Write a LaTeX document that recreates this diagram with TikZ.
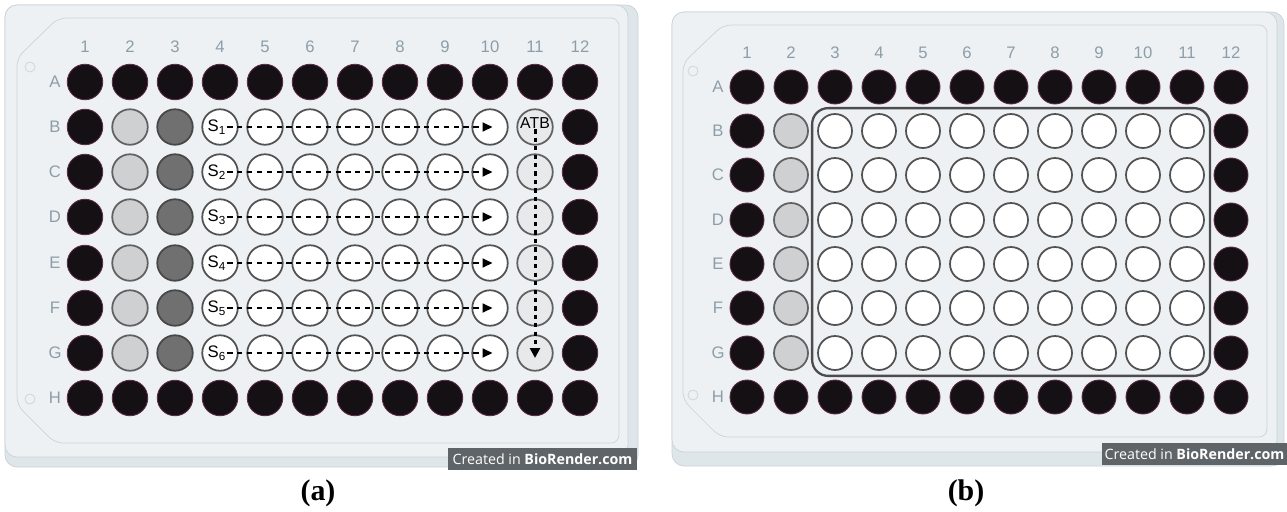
\documentclass[tikz,border=0pt]{standalone}
\usepackage{fontspec}
\setmainfont{Liberation Serif}
\setsansfont{Liberation Sans}
\newfontfamily\brfont{Open Sans}
\usetikzlibrary{positioning,arrows.meta,fit}

\definecolor{platebase}{HTML}{DFE6EA}
\definecolor{platetop}{HTML}{EDF1F4}
\definecolor{plateline}{HTML}{CAD3D9}
\definecolor{wellblack}{HTML}{151013}
\definecolor{wellrim}{HTML}{5C2B47}
\definecolor{lightwell}{HTML}{CFD0D2}
\definecolor{darkwell}{HTML}{707070}
\definecolor{atbgrey}{HTML}{E8E9EA}
\definecolor{labelgrey}{HTML}{8D9EA9}
\definecolor{markbox}{HTML}{5F6468}

\tikzset{
  well/.style={circle, minimum size=0.71cm, inner sep=0pt, line width=1pt},
  blackwell/.style={well, fill=wellblack, draw=wellrim, line width=0.5pt},
  greywell/.style={well, fill=lightwell, draw=black!62},
  darkgreywell/.style={well, fill=darkwell, draw=black!72},
  emptywell/.style={well, fill=white, draw=black!68},
  atbwell/.style={well, fill=atbgrey, draw=black!62},
  platelabel/.style={font=\fontsize{9.5}{10}\selectfont\sffamily, text=labelgrey, inner sep=0pt},
  sample/.style={font=\fontsize{9.5}{10}\selectfont\sffamily, inner sep=0.4pt},
  dilution/.style={-{Triangle[length=0.2cm,width=0.18cm]}, line width=1pt, dash pattern=on 3pt off 2.6pt},
  transfer/.style={-{Triangle[length=0.2cm,width=0.2cm]}, line width=1.7pt, dash pattern=on 2.4pt off 2.4pt},
  testbox/.style={draw=black!70, line width=1.3pt, rounded corners=0.32cm, inner sep=0.1cm},
  watermark/.style={fill=markbox, text=white, font=\brfont\fontsize{8.1}{9}\selectfont, minimum height=0.44cm, inner sep=0pt},
  caption/.style={font=\fontsize{17}{19}\selectfont\bfseries}
}

\begin{document}
\begin{tikzpicture}[x=0.02cm, y=-0.02cm]
\useasboundingbox (0,0) rectangle (1287,511);

% plate (a)
\draw[plateline, fill=platebase, rounded corners=0.24cm] (5,5) rectangle (638,467);
\draw[plateline, fill=platetop, rounded corners=0.24cm] (5,5) rectangle (628,457);
\draw[plateline, rounded corners=0.16cm] (58,18) -- (619,18) -- (619,443) -- (55,443) -- (17,405) -- (17,58) -- cycle;
\draw[plateline] (30,67) circle (0.1cm) (30,399) circle (0.1cm);
\foreach \c in {1,...,12} {
  \node[platelabel] (a-c\c) at ({85+45*(\c-1)},47) {\c};
  \node[blackwell] (a-A-\c) at ({85+45*(\c-1)},82) {};
  \node[blackwell] (a-H-\c) at ({85+45*(\c-1)},398) {};
}
\node[platelabel] (a-rA) at (55,82) {A};
\node[platelabel] (a-rH) at (55,398) {H};
\foreach \r/\y/\s in {B/127/1,C/172/2,D/217/3,E/263/4,F/308/5,G/353/6} {
  \node[platelabel] (a-r\r) at (55,\y) {\r};
  \node[blackwell] (a-\r-1) at (85,\y) {};
  \node[greywell] (a-\r-2) at (130,\y) {};
  \node[darkgreywell] (a-\r-3) at (175,\y) {};
  \foreach \c in {4,...,10}
    \node[emptywell] (a-\r-\c) at ({85+45*(\c-1)},\y) {};
  \node[atbwell] (a-\r-11) at (535,\y) {};
  \node[blackwell] (a-\r-12) at (580,\y) {};
  % serial dilution along the row
  \node[sample] (s\s) at ([xshift=-0.06cm]a-\r-4.center) {S\textsubscript{\s}};
  \draw[dilution] (s\s.east) -- ([xshift=0.05cm]a-\r-10.center);
}
\node[sample, font=\fontsize{9}{9}\selectfont\sffamily, inner sep=0pt] (atb) at ([yshift=0.07cm]a-B-11.center) {ATB};
\draw[transfer] (atb.south) -- ([yshift=-0.1cm]a-G-11.center);
\node[watermark, minimum width=3.78cm] (a-mark) at (542.5,459) {Created in \textbf{BioRender.com}};
\node[caption] (cap-a) at (318,493) {(a)};

% plate (b)
\draw[plateline, fill=platebase, rounded corners=0.24cm] (672,12) rectangle (1284,466);
\draw[plateline, fill=platetop, rounded corners=0.24cm] (672,12) rectangle (1277,452);
\draw[plateline, rounded corners=0.16cm] (723,25) -- (1267,25) -- (1267,437) -- (720,437) -- (683,400) -- (683,63) -- cycle;
\draw[plateline] (693,71) circle (0.1cm) (693,395) circle (0.1cm);
\begin{scope}[well/.append style={minimum size=0.68cm}]
\foreach \c in {1,...,12} {
  \node[platelabel] (b-c\c) at ({747+44*(\c-1)},53) {\c};
  \node[blackwell] (b-A-\c) at ({747+44*(\c-1)},87) {};
  \node[blackwell] (b-H-\c) at ({747+44*(\c-1)},397) {};
}
\node[platelabel] (b-rA) at (718,87) {A};
\node[platelabel] (b-rH) at (718,397) {H};
\foreach \r/\y in {B/131,C/175,D/220,E/264,F/308,G/353} {
  \node[platelabel] (b-r\r) at (718,\y) {\r};
  \node[blackwell] (b-\r-1) at (747,\y) {};
  \node[greywell] (b-\r-2) at (791,\y) {};
  \foreach \c in {3,...,11}
    \node[emptywell] (b-\r-\c) at ({747+44*(\c-1)},\y) {};
  \node[blackwell] (b-\r-12) at (1231,\y) {};
}
\end{scope}
\node[testbox, fit=(b-B-3)(b-G-11)] (b-test) {};
\node[watermark, minimum width=3.7cm] (b-mark) at (1194.5,454) {Created in \textbf{BioRender.com}};
\node[caption] (cap-b) at (966,493) {(b)};
\end{tikzpicture}
\end{document}
